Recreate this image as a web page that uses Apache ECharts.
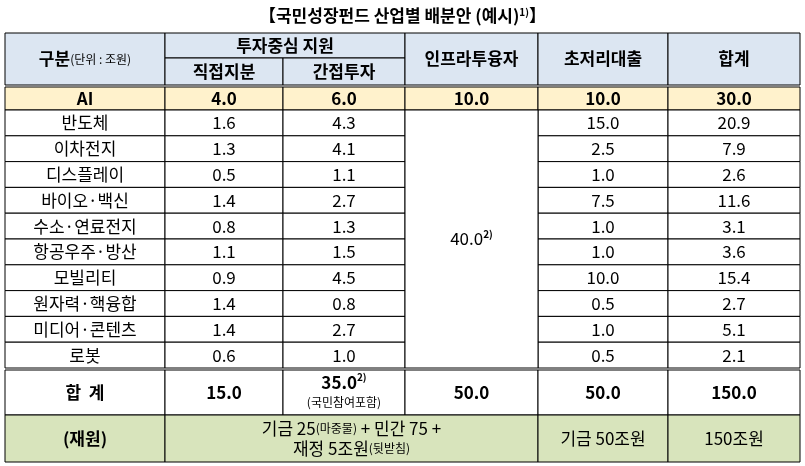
<!DOCTYPE html>
<html><head><meta charset="utf-8">
<script src="https://cdn.jsdelivr.net/npm/echarts@6/dist/echarts.min.js"></script>
<style>html,body{margin:0;padding:0;background:#fff}#c{width:805px;height:466px}</style>
</head><body><div id="c"></div>
<script>
const title = '【국민성장펀드 산업별 배분안 (예시){sup|1)}】';
const industries = ['반도체','이차전지','디스플레이','바이오·백신','수소·연료전지','항공우주·방산','모빌리티','원자력·핵융합','미디어·콘텐츠','로봇'];
const direct   = [1.6,1.3,0.5,1.4,0.8,1.1,0.9,1.4,1.4,0.6];
const indirect = [4.3,4.1,1.1,2.7,1.3,1.5,4.5,0.8,2.7,1.0];
const infraAll = 40.0;
const loans    = [15.0,2.5,1.0,7.5,1.0,1.0,10.0,0.5,1.0,0.5];
const totals   = [20.9,7.9,2.6,11.6,3.1,3.6,15.4,2.7,5.1,2.1];
const aiRow    = [4.0,6.0,10.0,10.0,30.0];
const sumRow   = [15.0,35.0,50.0,50.0,150.0];
const fundText = ['기금 25{s|(마중물)} + 민간 75 +\n재정 5조원{s|(뒷받침)}','기금 50조원','150조원'];

// layout (column / row edges in table units)
const colE = [0,160,278,400,533,663,795];
const hdr = [0,25,52], aiR=[54,77], rowH=25.8, sumR=[337,382], fundR=[382,429];
const f = v => v.toFixed(1);
const C_H='#dce6f2', C_AI='#fff2cc', C_F='#d8e4bc';
const cells = [];
function add(c0,c1,r0,r1,text,opt){cells.push(Object.assign({value:[colE[c0],colE[c1],r0,r1],text},opt||{}));}
add(0,1,0,52,'{b|구분}{s|(단위 : 조원)}',{bg:C_H});
add(1,3,0,25,'투자중심 지원',{bg:C_H,bold:1});
add(1,2,25,52,'직접지분',{bg:C_H,bold:1});
add(2,3,25,52,'간접투자',{bg:C_H,bold:1});
['인프라투융자','초저리대출','합계'].forEach((t,i)=>add(3+i,4+i,0,52,t,{bg:C_H,bold:1}));
add(0,1,aiR[0],aiR[1],'AI',{bg:C_AI,bold:1});
aiRow.forEach((v,i)=>add(1+i,2+i,aiR[0],aiR[1],f(v),{bg:C_AI,bold:1}));
industries.forEach((n,i)=>{
  const r0=aiR[1]+i*rowH, r1=r0+rowH;
  add(0,1,r0,r1,n);
  add(1,2,r0,r1,f(direct[i]));
  add(2,3,r0,r1,f(indirect[i]));
  add(4,5,r0,r1,f(loans[i]));
  add(5,6,r0,r1,f(totals[i]));
});
add(3,4,aiR[1],aiR[1]+10*rowH,f(infraAll)+'{sup|2)}');
add(0,1,sumR[0],sumR[1],'합  계',{bold:1});
sumRow.forEach((v,i)=>add(1+i,2+i,sumR[0],sumR[1], i===1? '{b|'+f(v)+'}{sup|2)}\n{s|(국민참여포함)}' : f(v),{bold:1}));
add(0,1,fundR[0],fundR[1],'(재원)',{bg:C_F,bold:1});
add(1,4,fundR[0],fundR[1],fundText[0],{bg:C_F});
add(4,5,fundR[0],fundR[1],fundText[1],{bg:C_F});
add(5,6,fundR[0],fundR[1],fundText[2],{bg:C_F});

const FF='"Noto Sans CJK KR","Noto Sans",sans-serif';
const chart = echarts.init(document.getElementById('c'));
chart.setOption({
  title:{text:title,left:'center',top:2,textStyle:{fontFamily:FF,fontSize:17,fontWeight:'bold',color:'#000',rich:{sup:{fontSize:10,fontWeight:'bold',verticalAlign:'top',padding:[0,0,8,0]}}}},
  grid:{left:5,right:5,top:33,bottom:4},
  xAxis:{type:'value',min:0,max:795,show:false},
  yAxis:{type:'value',min:0,max:429,inverse:true,show:false},
  series:[{type:'custom',data:cells,animation:false,
    renderItem:(p,api)=>{
      const c=cells[p.dataIndex];
      const a=api.coord([api.value(0),api.value(2)]), b=api.coord([api.value(1),api.value(3)]);
      const bold=c.bold?'bold':'normal';
      return {type:'group',children:[
        {type:'rect',shape:{x:a[0],y:a[1],width:b[0]-a[0],height:b[1]-a[1]},style:{fill:c.bg||'#fff',stroke:'#000',lineWidth:1}},
        {type:'text',style:{x:(a[0]+b[0])/2,y:(a[1]+b[1])/2,text:c.text,align:'center',verticalAlign:'middle',
          fontFamily:FF,fontSize:17,fontWeight:bold,fill:'#000',lineHeight:20,
          rich:{b:{fontSize:17,fontWeight:'bold',fontFamily:FF},s:{fontSize:12,fontFamily:FF,fontWeight:'normal'},
                sup:{fontSize:10,fontWeight:'bold',fontFamily:FF,verticalAlign:'top',padding:[0,0,8,0]}}}}
      ]};
    }}]
});
</script></body></html>
